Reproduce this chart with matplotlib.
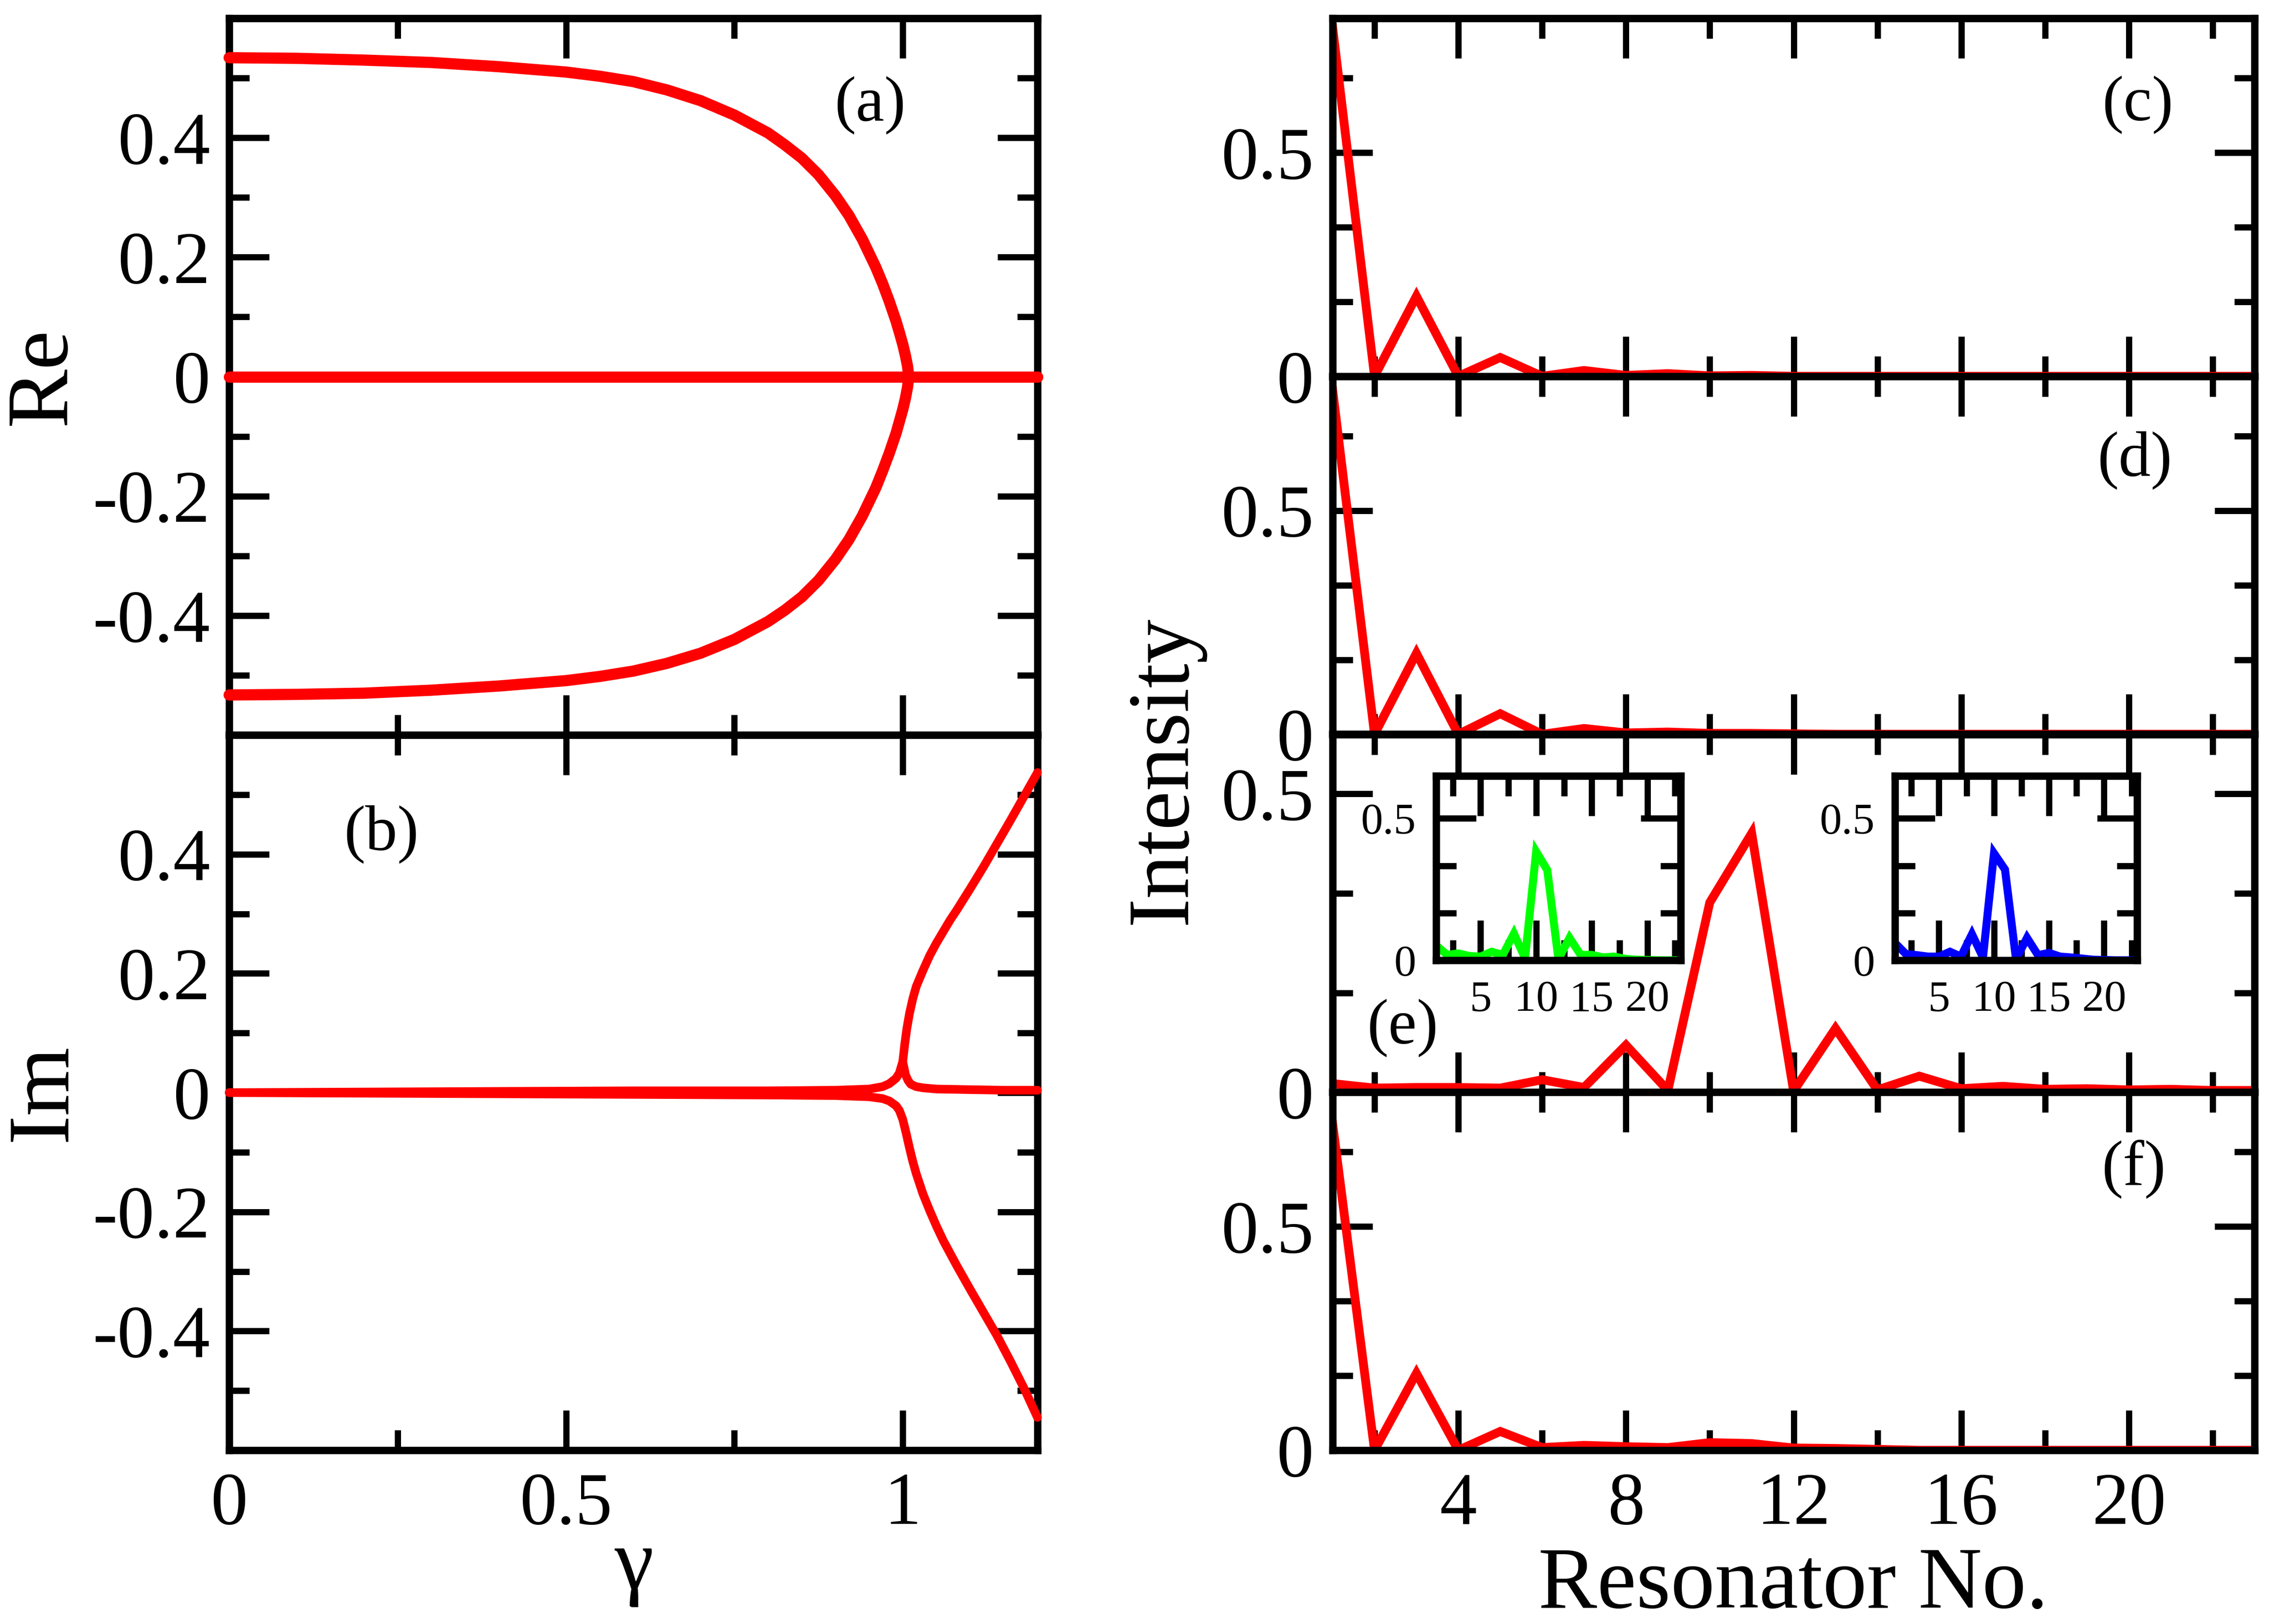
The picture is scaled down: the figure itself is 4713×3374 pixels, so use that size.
import matplotlib
matplotlib.use("Agg")
import matplotlib.pyplot as plt
from matplotlib.ticker import MultipleLocator, FixedLocator, FuncFormatter

plt.rcParams['font.family'] = ['Liberation Serif', 'DejaVu Serif']
plt.rcParams['axes.unicode_minus'] = False

# ---------------- data ----------------
# (a) real part of the eigenvalues vs gamma
gamma_re = [0.0, 0.1, 0.2, 0.3, 0.4, 0.5, 0.55, 0.6, 0.65, 0.7, 0.75, 0.8, 0.825, 0.85, 0.875,
            0.9, 0.92, 0.94, 0.96, 0.97, 0.98, 0.99, 0.995, 1.0, 1.004, 1.007, 1.009]
re_upper = [0.534, 0.533, 0.530, 0.526, 0.519, 0.510, 0.503, 0.494, 0.480, 0.462, 0.438, 0.408, 0.388,
            0.366, 0.338, 0.303, 0.270, 0.230, 0.183, 0.156, 0.126, 0.093, 0.074, 0.054, 0.035, 0.018, 0.0]
re_lower = [-0.533, -0.532, -0.530, -0.525, -0.518, -0.509, -0.502, -0.493, -0.480, -0.463, -0.440, -0.410,
            -0.391, -0.369, -0.341, -0.306, -0.273, -0.233, -0.186, -0.158, -0.128, -0.095, -0.075, -0.055,
            -0.036, -0.018, 0.0]
gamma_re0 = [0.0, 1.2]
re_zero = [0.0, 0.0]

# (b) imaginary part vs gamma
gamma_im_up = [0.0, 0.2, 0.4, 0.6, 0.8, 0.9, 0.95, 0.97, 0.98, 0.99, 0.995, 1.0, 1.003, 1.006, 1.01,
               1.015, 1.02, 1.03, 1.04, 1.05, 1.06, 1.07, 1.08, 1.1, 1.12, 1.14, 1.16, 1.18, 1.2]
im_up = [0.0, 0.001, 0.002, 0.003, 0.003, 0.004, 0.006, 0.010, 0.015, 0.024, 0.033, 0.052, 0.082, 0.107, 0.133,
         0.158, 0.178, 0.205, 0.230, 0.251, 0.270, 0.289, 0.306, 0.342, 0.379, 0.418, 0.457, 0.497, 0.537]
gamma_im_back = [1.0, 1.004, 1.008, 1.012, 1.02, 1.03, 1.05, 1.1, 1.15, 1.2]
im_back = [0.052, 0.03, 0.02, 0.014, 0.010, 0.008, 0.006, 0.005, 0.004, 0.004]
gamma_im_dn = [0.0, 0.2, 0.4, 0.6, 0.8, 0.9, 0.95, 0.97, 0.98, 0.99, 0.995, 1.0, 1.005, 1.01, 1.015,
               1.02, 1.03, 1.04, 1.05, 1.06, 1.08, 1.1, 1.12, 1.14, 1.16, 1.18, 1.2]
im_dn = [0.0, -0.001, -0.002, -0.003, -0.004, -0.005, -0.007, -0.010, -0.014, -0.022, -0.03, -0.045, -0.068,
         -0.093, -0.116, -0.136, -0.170, -0.198, -0.224, -0.248, -0.290, -0.330, -0.369, -0.408, -0.451,
         -0.496, -0.545]

# (c)-(f) intensity per resonator
resonator = list(range(1, 24))
int_c = [0.78, 0.0, 0.179, 0.0, 0.042, 0.0, 0.013, 0.002, 0.006, 0.001, 0.002, 0.0,
         0.0, 0.0, 0.0, 0.0, 0.0, 0.0, 0.0, 0.0, 0.0, 0.0, 0.0]
int_d = [0.77, 0.0, 0.181, 0.0, 0.046, 0.0, 0.013, 0.003, 0.005, 0.002, 0.002, 0.001,
         0.0, 0.0, 0.0, 0.0, 0.0, 0.0, 0.0, 0.0, 0.0, 0.0, 0.0]
int_e = [0.0145, 0.007, 0.008, 0.008, 0.007, 0.021, 0.008, 0.079, 0.003, 0.318, 0.434, 0.002,
         0.107, 0.004, 0.027, 0.006, 0.010, 0.005, 0.006, 0.004, 0.005, 0.003, 0.003]
int_f = [0.73, 0.0, 0.172, 0.0, 0.042, 0.006, 0.011, 0.008, 0.006, 0.017, 0.015, 0.005,
         0.004, 0.002, 0.0, 0.0, 0.0, 0.0, 0.0, 0.0, 0.0, 0.0, 0.0]
# insets of (e)
inset_green = [0.052, 0.019, 0.024, 0.015, 0.013, 0.030, 0.019, 0.094, 0.007, 0.383, 0.318, 0.004,
               0.079, 0.019, 0.019, 0.010, 0.013, 0.005, 0.002, 0.001, 0.0, 0.0, 0.0]
inset_blue = [0.061, 0.022, 0.018, 0.013, 0.013, 0.030, 0.013, 0.092, 0.010, 0.377, 0.320, 0.004,
              0.079, 0.018, 0.026, 0.013, 0.010, 0.006, 0.002, 0.001, 0.0, 0.0, 0.0]

# ---------------- figure ----------------
W, H = 4713, 3374
DPI = 300
fig = plt.figure(figsize=(W / DPI, H / DPI), dpi=DPI)


def px_box(x0, y0, x1, y1):
    # pixel box (top-left origin) -> figure fraction rect
    return [x0 / W, 1 - y1 / H, (x1 - x0) / W, (y1 - y0) / H]


def num(v, pos=None):
    if abs(v) < 1e-9:
        return '0'
    return '%g' % round(v, 3)


def style(ax, fs=37, xpad=11, ypad=9.5):
    for s in ax.spines.values():
        s.set_linewidth(3.7)
    ax.tick_params(which='both', direction='in', top=True, right=True, width=3.1, labelsize=fs)
    ax.tick_params(which='major', length=20)
    ax.tick_params(which='minor', length=10)
    ax.tick_params(axis='x', pad=xpad)
    ax.tick_params(axis='y', pad=ypad)
    ax.xaxis.set_major_formatter(FuncFormatter(num))
    ax.yaxis.set_major_formatter(FuncFormatter(num))


RED = '#ff0000'
LX0, LX1 = 476, 2155
RX0, RX1 = 2768, 4683
TOP, MID, BOT = 38, 1527, 3013
qh = (BOT - TOP) / 4.0

# left column
ax_a = fig.add_axes(px_box(LX0, TOP, LX1, MID))
ax_b = fig.add_axes(px_box(LX0, MID, LX1, BOT))

kw_left = dict(color=RED, solid_capstyle='round', solid_joinstyle='round', clip_on=False, zorder=3)
ax_a.plot(gamma_re0, re_zero, lw=5.6, **kw_left)
ax_a.plot(gamma_re, re_upper, lw=5.6, **kw_left)
ax_a.plot(gamma_re, re_lower, lw=5.6, **kw_left)

ax_b.plot(gamma_im_up, im_up, lw=4.3, **kw_left)
ax_b.plot(gamma_im_back, im_back, lw=4.3, **kw_left)
ax_b.plot(gamma_im_dn, im_dn, lw=4.3, **kw_left)

for ax in (ax_a, ax_b):
    ax.set_xlim(0, 1.2)
    ax.set_ylim(-0.6, 0.6)
    style(ax)
    ax.xaxis.set_major_locator(FixedLocator([0, 0.5, 1.0]))
    ax.xaxis.set_minor_locator(FixedLocator([0.25, 0.75]))
    ax.yaxis.set_major_locator(FixedLocator([-0.4, -0.2, 0, 0.2, 0.4]))
    ax.yaxis.set_minor_locator(FixedLocator([-0.5, -0.3, -0.1, 0.1, 0.3, 0.5]))
ax_a.tick_params(labelbottom=False)

ax_a.text(0.793, 0.878, '(a)', transform=ax_a.transAxes, ha='center', va='center', fontsize=32)
ax_b.text(0.188, 0.861, '(b)', transform=ax_b.transAxes, ha='center', va='center', fontsize=32)

# right column
right_series = [int_c, int_d, int_e, int_f]
right_tags = ['(c)', '(d)', '(e)', '(f)']
tag_pos = [(0.873, 0.758), (0.870, 0.765), (0.076, 0.178), (0.869, 0.786)]
right_axes = []
for i, (vals, tag) in enumerate(zip(right_series, right_tags)):
    ax = fig.add_axes(px_box(RX0, TOP + i * qh, RX1, TOP + (i + 1) * qh))
    ax.plot(resonator, vals, color=RED, lw=4.4, solid_joinstyle='miter')
    ax.set_xlim(1, 23)
    ax.set_ylim(0, 0.6 if tag == '(e)' else 0.8)
    style(ax)
    ax.xaxis.set_major_locator(MultipleLocator(4))
    ax.xaxis.set_minor_locator(FixedLocator([2, 6, 10, 14, 18, 22]))
    ax.yaxis.set_major_locator(FixedLocator([0, 0.5]))
    ax.yaxis.set_minor_locator(MultipleLocator(0.5 / 3))
    if tag != '(f)':
        ax.tick_params(labelbottom=False)
    tx, ty = tag_pos[i]
    ax.text(tx, ty, tag, transform=ax.transAxes, ha='center', va='center', fontsize=32)
    right_axes.append(ax)

# insets in (e)
inset_boxes = [(2983, 1612, 3491, 1995), (3936, 1612, 4439, 1995)]
for box, vals, col in zip(inset_boxes, [inset_green, inset_blue], ['#00ff00', '#0000ff']):
    ins = fig.add_axes(px_box(*box))
    ins.set_zorder(5)
    ins.plot(resonator, vals, color=col, lw=4.0, solid_joinstyle='miter')
    ins.set_xlim(1, 23)
    ins.set_ylim(0, 0.65)
    style(ins, fs=22, xpad=10, ypad=10)
    ins.xaxis.set_major_locator(FixedLocator([5, 10, 15, 20]))
    ins.xaxis.set_minor_locator(FixedLocator([2.5, 7.5, 12.5, 17.5, 22.5]))
    ins.yaxis.set_major_locator(FixedLocator([0, 0.5]))
    ins.yaxis.set_minor_locator(MultipleLocator(0.5 / 3))

# axis titles
fig.text(135 / W, 1 - 782 / H, 'Re', rotation=90, rotation_mode='anchor',
         ha='center', va='baseline', fontsize=44)
fig.text(136 / W, 1 - 2270 / H, 'Im', rotation=90, rotation_mode='anchor',
         ha='center', va='baseline', fontsize=44)
fig.text(1317 / W, 1 - 3300 / H, 'γ', ha='center', va='baseline', fontsize=44)
fig.text(2462 / W, 1 - 1600 / H, 'Intensity', rotation=90, rotation_mode='anchor',
         ha='center', va='baseline', fontsize=44)
fig.text(3725 / W, 1 - 3340 / H, 'Resonator No.', ha='center', va='baseline', fontsize=44)

fig.savefig('out.png', dpi=DPI)
